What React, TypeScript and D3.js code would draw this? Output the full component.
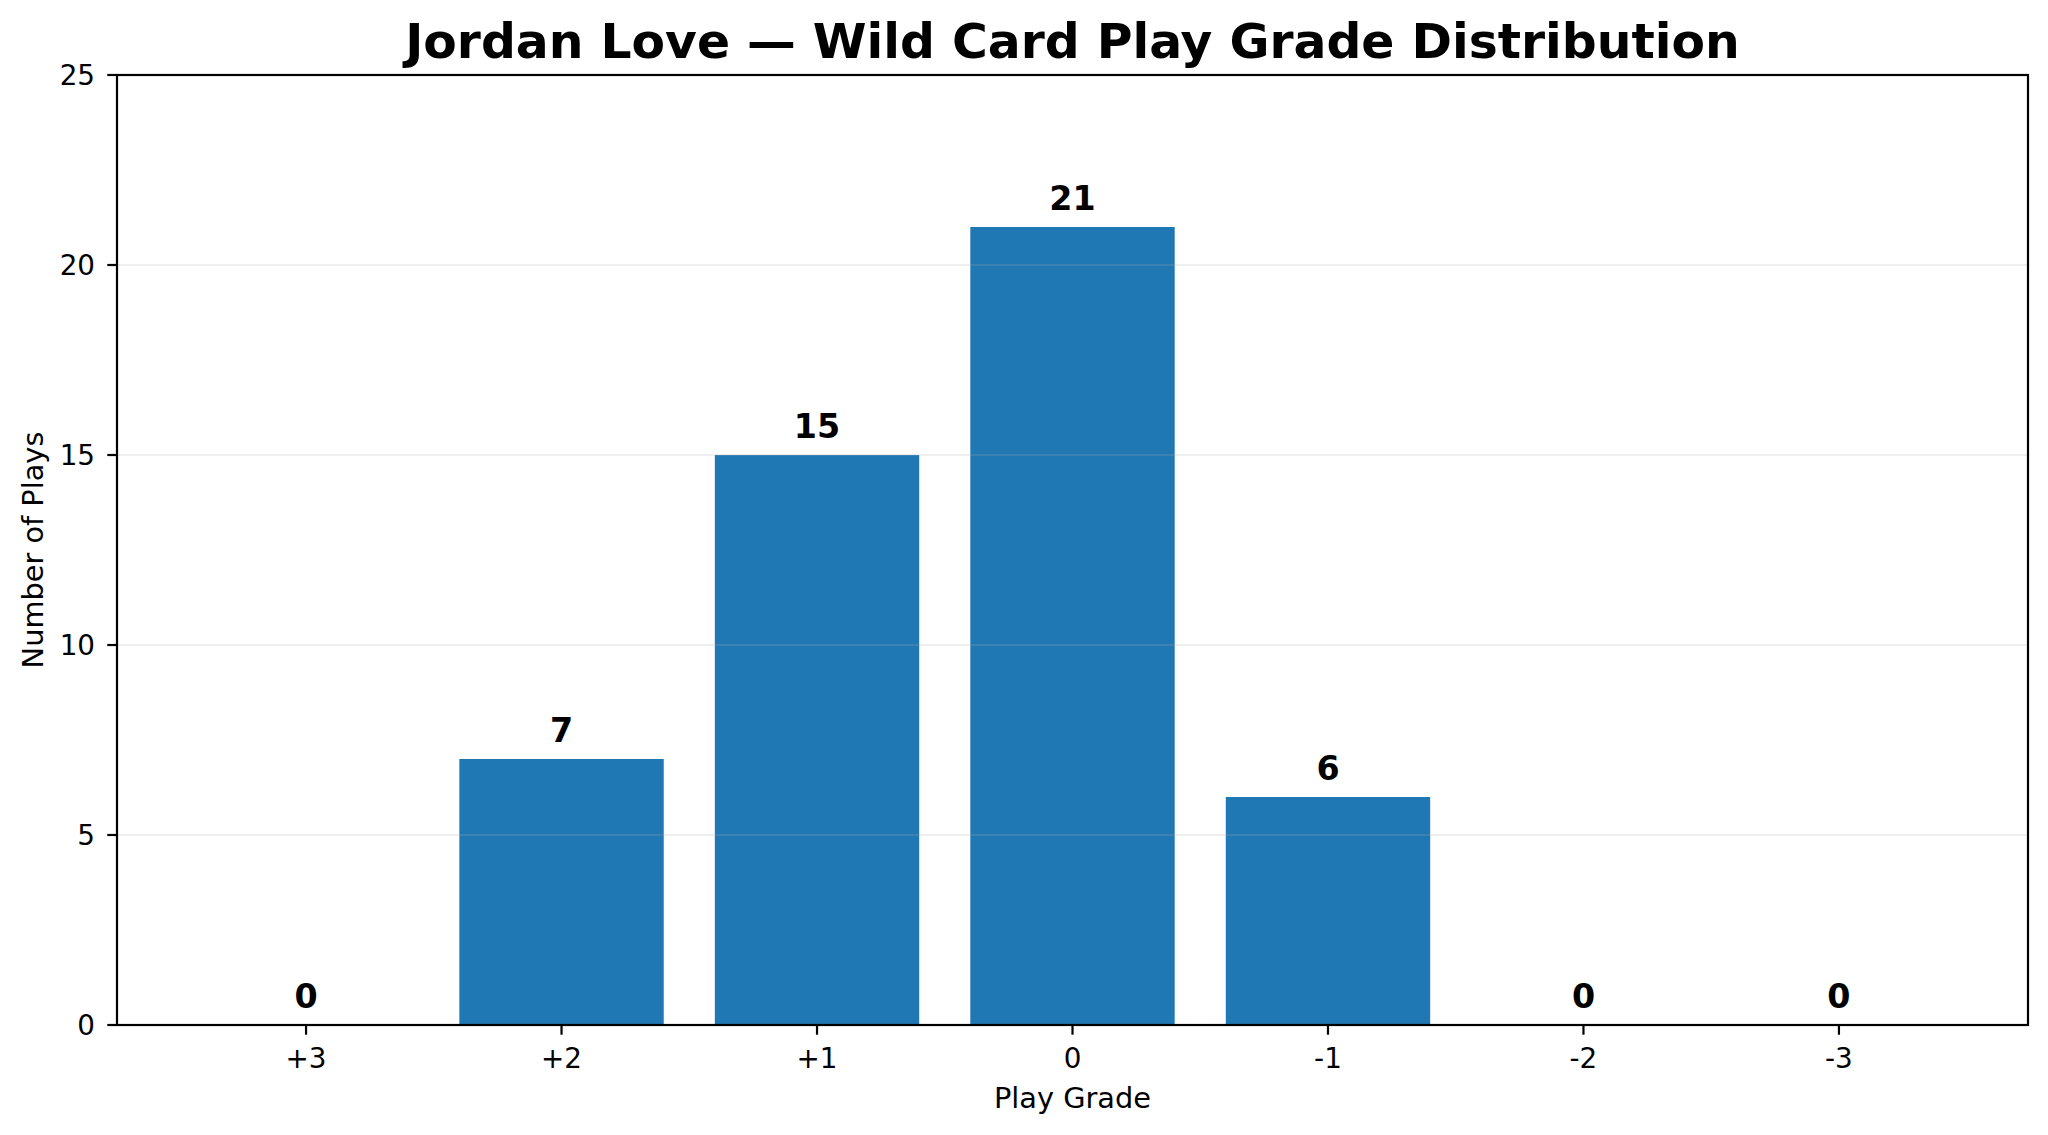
import * as d3 from "d3"

const TITLE = "Jordan Love — Wild Card Play Grade Distribution"
const GRADES = ["+3", "+2", "+1", "0", "-1", "-2", "-3"]
const PLAY_COUNTS = [0, 7, 15, 21, 6, 0, 0]
const Y_TICKS = [0, 5, 10, 15, 20, 25]

const W = 2048
const H = 1135
const M = { left: 117, right: 20, top: 75, bottom: 110 }
const FONT = "'DejaVu Sans', sans-serif"
const BAR = "#1f77b4"

export default function App() {
  const x = d3
    .scaleBand<string>()
    .domain(GRADES)
    .range([M.left, W - M.right])
    .paddingInner(0.2)
    .paddingOuter(0.34)
  const y = d3.scaleLinear().domain([0, 25]).range([H - M.bottom, M.top])

  const x0 = M.left
  const x1 = W - M.right
  const y0 = H - M.bottom
  const y1 = M.top

  return (
    <div style={{ position: "absolute", left: 0, top: 0, background: "white" }}>
      <svg width={W} height={H} viewBox={`0 0 ${W} ${H}`} fontFamily={FONT}>
        <rect width={W} height={H} fill="white" />

        {GRADES.map((g, i) => (
          <rect
            key={g}
            x={x(g)}
            y={y(PLAY_COUNTS[i])}
            width={x.bandwidth()}
            height={y(0) - y(PLAY_COUNTS[i])}
            fill={BAR}
          />
        ))}

        {/* grid sits on top of the bars, very faint */}
        {Y_TICKS.filter((t) => t > 0 && t < 25).map((t) => (
          <line key={t} x1={x0} x2={x1} y1={y(t)} y2={y(t)} stroke="#b0b0b0" strokeOpacity={0.2} strokeWidth={2.2} />
        ))}

        {GRADES.map((g, i) => (
          <text
            key={g}
            x={x(g)! + x.bandwidth() / 2}
            y={y(PLAY_COUNTS[i]) - 17}
            textAnchor="middle"
            fontSize={33.3}
            fontWeight="bold"
            fill="black"
          >
            {PLAY_COUNTS[i]}
          </text>
        ))}

        <rect x={x0} y={y1} width={x1 - x0} height={y0 - y1} fill="none" stroke="black" strokeWidth={2.2} />

        {Y_TICKS.map((t) => (
          <g key={t}>
            <line x1={x0 - 9.7} x2={x0} y1={y(t)} y2={y(t)} stroke="black" strokeWidth={2.2} />
            <text x={x0 - 22} y={y(t) + 10} textAnchor="end" fontSize={27.8} fill="black">
              {t}
            </text>
          </g>
        ))}

        {GRADES.map((g) => {
          const cx = x(g)! + x.bandwidth() / 2
          return (
            <g key={g}>
              <line x1={cx} x2={cx} y1={y0} y2={y0 + 9.7} stroke="black" strokeWidth={2.2} />
              <text x={cx} y={y0 + 43} textAnchor="middle" fontSize={27.8} fill="black">
                {g}
              </text>
            </g>
          )
        })}

        <text x={(x0 + x1) / 2} y={1108} textAnchor="middle" fontSize={28.8} fill="black">
          Play Grade
        </text>
        <text
          transform={`translate(43, ${(y0 + y1) / 2}) rotate(-90)`}
          textAnchor="middle"
          fontSize={28.8}
          fill="black"
        >
          Number of Plays
        </text>

        <text x={(x0 + x1) / 2} y={58} textAnchor="middle" fontSize={48.8} fontWeight="bold" fill="black">
          {TITLE}
        </text>
      </svg>
    </div>
  )
}
